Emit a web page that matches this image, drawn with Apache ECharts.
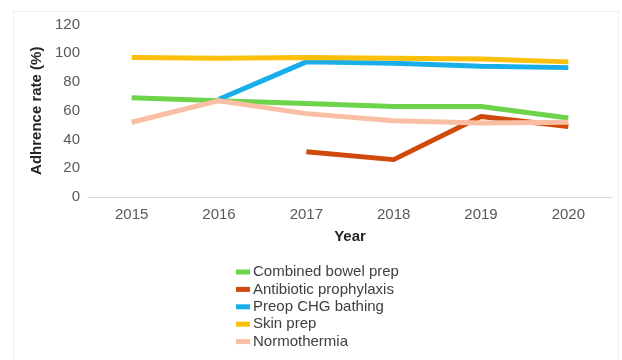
<!DOCTYPE html>
<html><head><meta charset="utf-8">
<script src="https://cdn.jsdelivr.net/npm/echarts@6/dist/echarts.min.js"></script>
<style>html,body{margin:0;padding:0;background:#fff}#c{width:622px;height:360px;position:relative}
#frame{position:absolute;left:13px;top:11px;width:606px;height:360px;border:1px solid #eeeeee;box-sizing:border-box;pointer-events:none}</style>
</head><body><div id="c"></div>
<script>
const years = ['2015','2016','2017','2018','2019','2020'];
const combinedBowelPrep = [69, 67, 65, 63, 63, 55];
const antibioticProphylaxis = [null, null, 31.5, 26, 56, 49];
const preopCHGBathing = [null, 68, 94, 93, 91, 90];
const skinPrep = [97, 96.5, 97, 96.5, 96, 94];
const normothermia = [52, 67, 58, 53, 51.5, 52];
const seriesNames = ['Combined bowel prep','Antibiotic prophylaxis','Preop CHG bathing','Skin prep','Normothermia'];
const seriesData = [combinedBowelPrep, antibioticProphylaxis, preopCHGBathing, skinPrep, normothermia];
const colors = ['#6dd34a','#cf4a0c','#18aeea','#fcbf0a','#f9bea3'];

const chart = echarts.init(document.getElementById('c'), null, {renderer:'canvas'});
const font = 'Liberation Sans, Arial, sans-serif';
chart.setOption({
  animation:false,
  color: colors,
  grid:{left:88, right:10, top:24.5, bottom:163, containLabel:false},
  xAxis:{type:'category', data:years, boundaryGap:true,
    axisLine:{lineStyle:{color:'#d9d9d9', width:1}}, axisTick:{show:false},
    axisLabel:{color:'#595959', fontSize:15, fontFamily:font, margin:10},
    name:'Year', nameLocation:'middle', nameGap:32,
    nameTextStyle:{color:'#262626', fontSize:15, fontWeight:'bold', fontFamily:font}},
  yAxis:{type:'value', min:0, max:120, interval:20,
    axisLine:{show:false}, axisTick:{show:false}, splitLine:{show:false},
    axisLabel:{color:'#595959', fontSize:15, fontFamily:font, margin:8},
    name:'Adhrence rate (%)', nameLocation:'middle', nameGap:39,
    nameTextStyle:{color:'#262626', fontSize:15, fontWeight:'bold', fontFamily:font}},
  legend:{orient:'vertical', left:231, top:258.5, icon:'rect', itemWidth:14, itemHeight:5, itemGap:0.4,
    textStyle:{color:'#404040', fontSize:15, fontFamily:font, lineHeight:17, padding:[0,0,0,-2]},
    data:seriesNames},
  series: seriesNames.map((n,i)=>({name:n, type:'line', data:seriesData[i], symbol:'none',
    lineStyle:{width:5, color:colors[i]}, connectNulls:false}))
});
</script>
<div id="frame" style="display:none"></div>
<script>
const f=document.getElementById('frame');document.getElementById('c').appendChild(f);f.style.display='block';
</script>
</body></html>
